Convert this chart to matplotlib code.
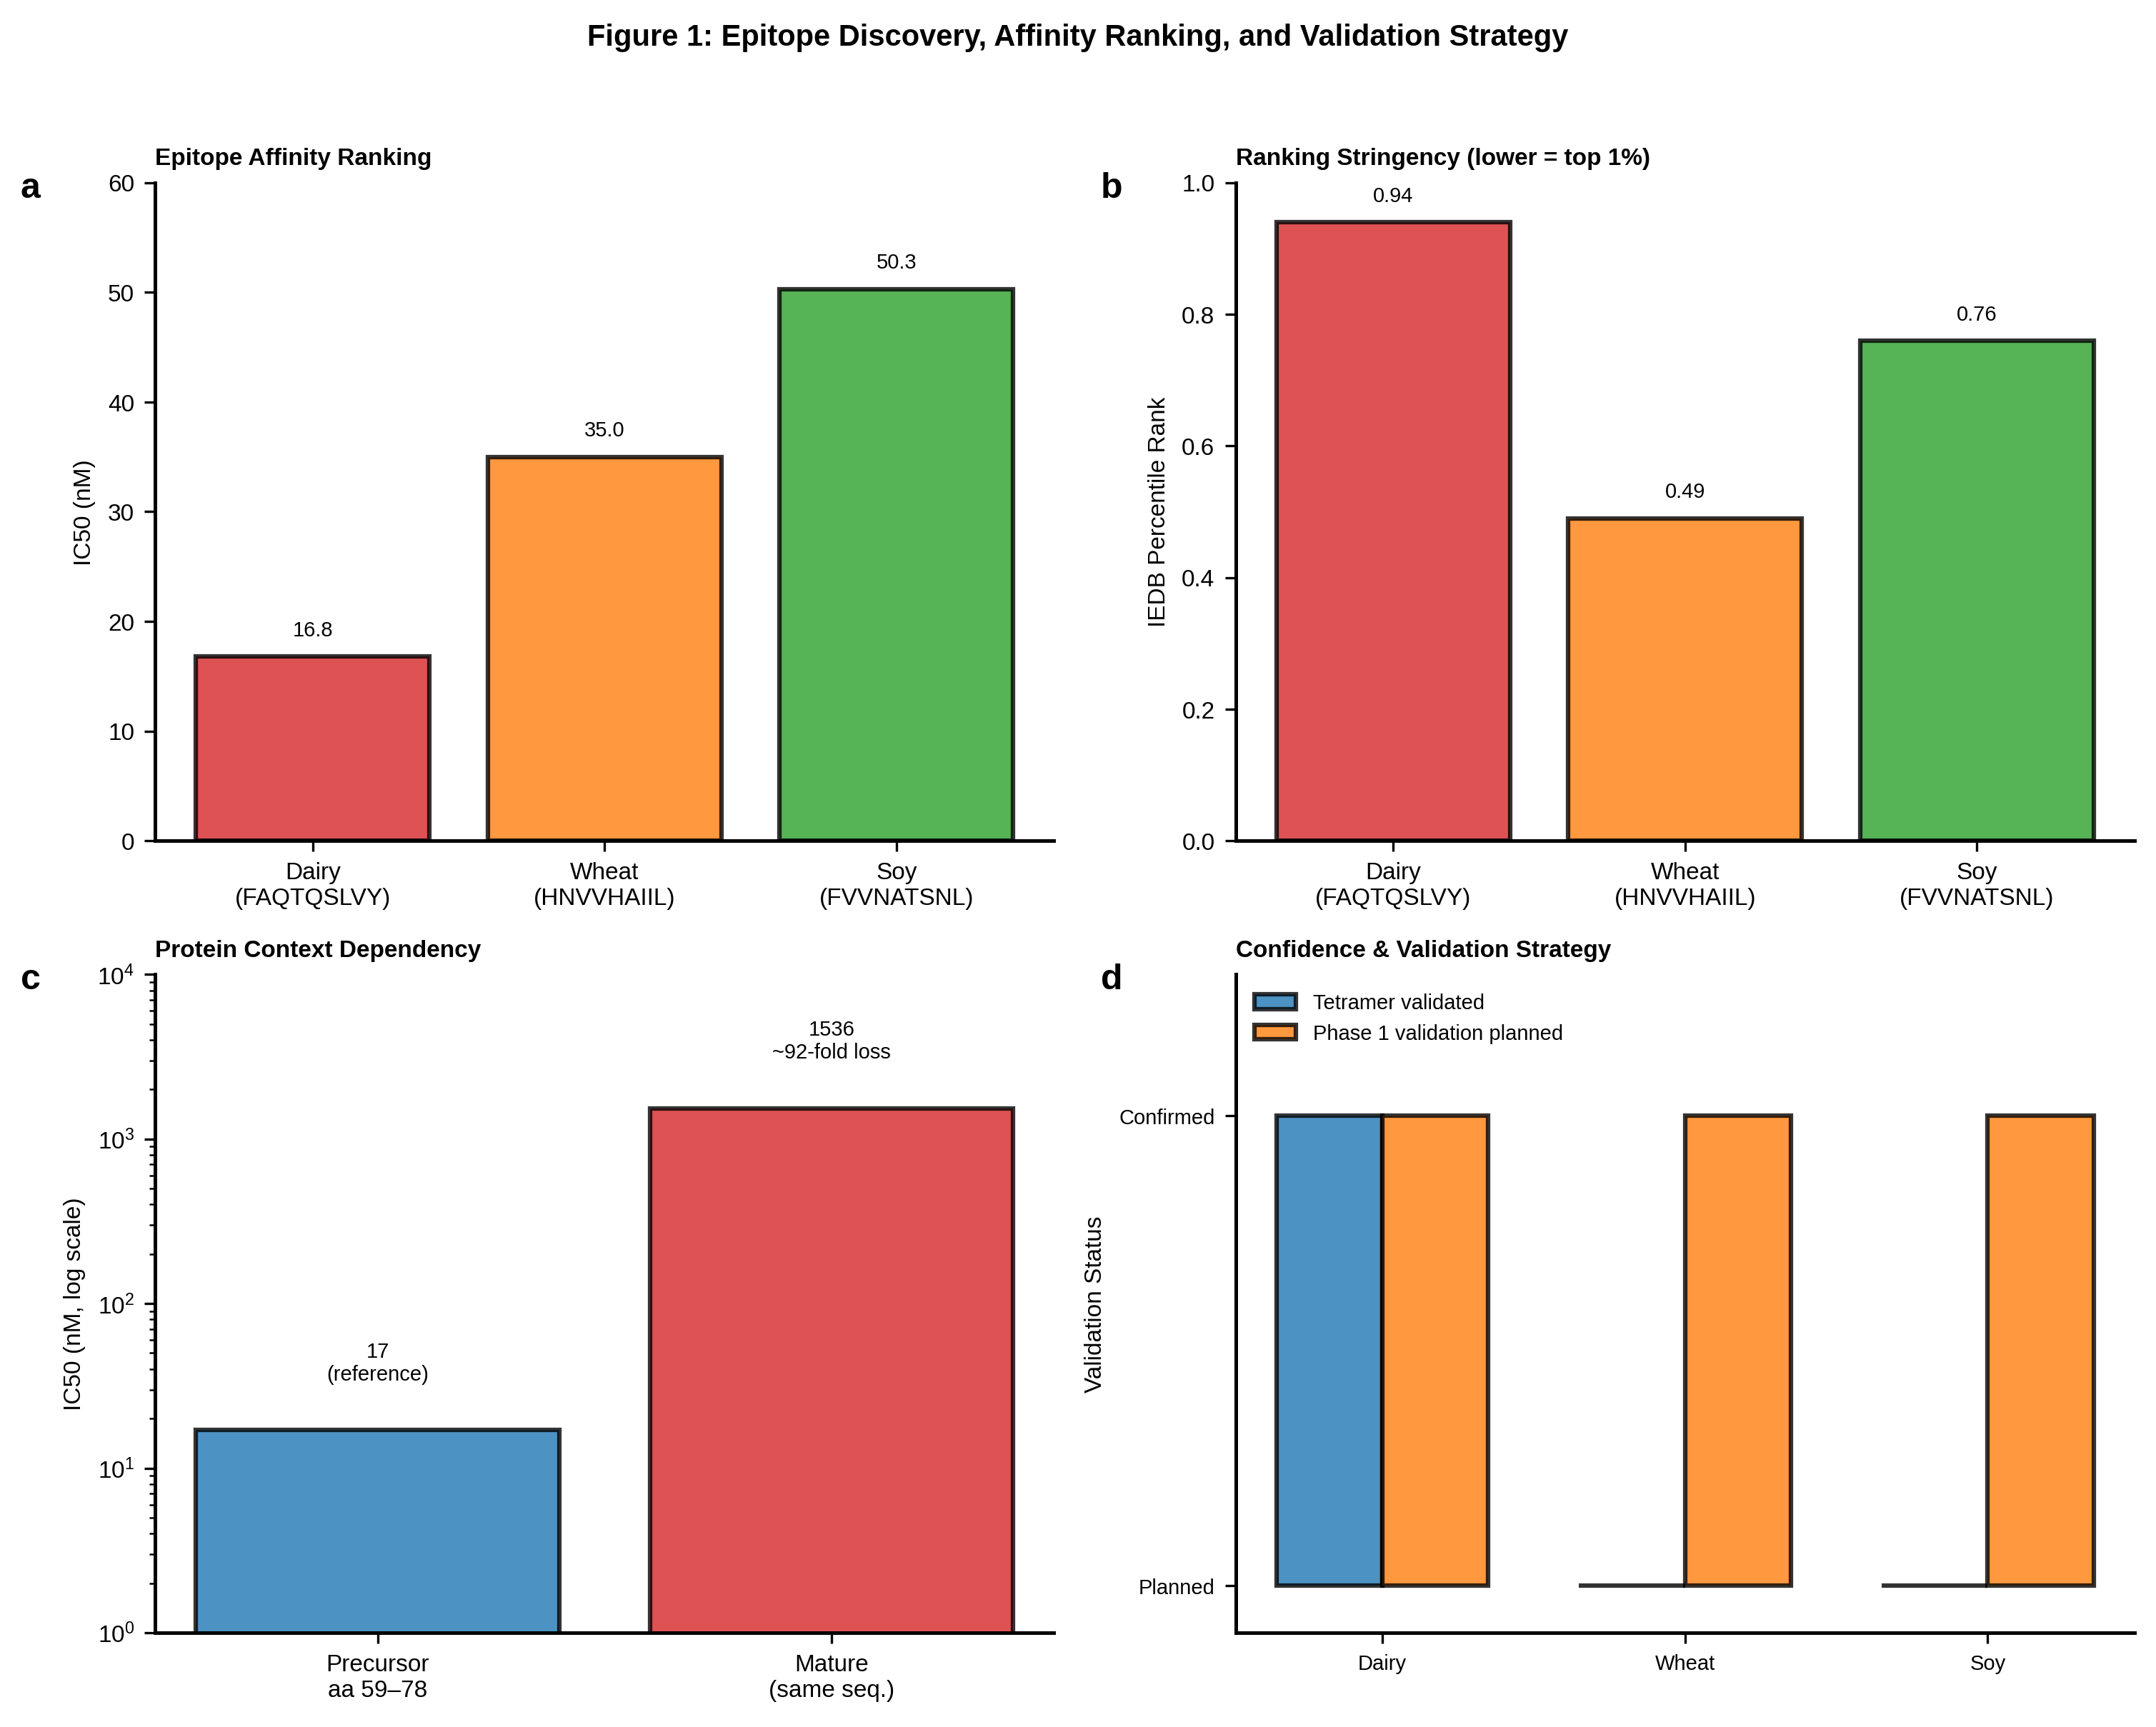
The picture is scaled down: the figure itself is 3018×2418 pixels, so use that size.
import matplotlib
matplotlib.use('Agg')
import matplotlib.pyplot as plt
import numpy as np

plt.rcParams['font.family'] = ['Liberation Sans', 'DejaVu Sans']
plt.rcParams['mathtext.fontset'] = 'custom'
plt.rcParams['mathtext.rm'] = 'Liberation Sans'
plt.rcParams['mathtext.it'] = 'Liberation Sans:italic'
plt.rcParams['axes.linewidth'] = 1.2
plt.rcParams['font.size'] = 8

# data
foods = ['Dairy', 'Wheat', 'Soy']
peptides = ['FAQTQSLVY', 'HNVVHAIIL', 'FVVNATSNL']
ic50 = [16.8, 35.0, 50.3]
pct_rank = [0.94, 0.49, 0.76]
context_labels = ['Precursor\naa 59\u201378', 'Mature\n(same seq.)']
context_ic50 = [17, 1536]
context_notes = ['17\n(reference)', '1536\n~92-fold loss']
tetramer = [1, 0, 0]
phase1 = [1, 1, 1]
status_labels = ['Planned', 'Confirmed']

c_red = '#d62728'
c_orange = '#ff7f0e'
c_green = '#2ca02c'
c_blue = '#1f77b4'
food_colors = [c_red, c_orange, c_green]

fig, axes = plt.subplots(2, 2, figsize=(10.06, 8.063), dpi=300)
plt.subplots_adjust(left=0.072, right=0.990, top=0.894, bottom=0.0546,
                    wspace=0.202, hspace=0.203)
fig.suptitle('Figure 1: Epitope Discovery, Affinity Ranking, and Validation Strategy',
             fontsize=10, fontweight='bold', y=0.9865)

xt = [f'{f}\n({p})' for f, p in zip(foods, peptides)]
x = np.arange(len(foods))

# a
ax = axes[0, 0]
ax.bar(x, ic50, width=0.8, color=food_colors, edgecolor='black', linewidth=1.5, alpha=0.8)
for xi, v in zip(x, ic50):
    ax.text(xi, v + 1.5, f'{v:.1f}', ha='center', va='bottom', fontsize=7)
ax.set_ylim(0, 60)
ax.set_xticks(x)
ax.set_xticklabels(xt)
ax.set_ylabel('IC50 (nM)')
ax.set_title('Epitope Affinity Ranking', loc='left', fontsize=8, fontweight='bold', pad=6)

# b
ax = axes[0, 1]
ax.bar(x, pct_rank, width=0.8, color=food_colors, edgecolor='black', linewidth=1.5, alpha=0.8)
for xi, v in zip(x, pct_rank):
    ax.text(xi, v + 0.025, f'{v:.2f}', ha='center', va='bottom', fontsize=7)
ax.set_ylim(0, 1.0)
ax.set_xticks(x)
ax.set_xticklabels(xt)
ax.set_ylabel('IEDB Percentile Rank')
ax.set_title('Ranking Stringency (lower = top 1%)', loc='left', fontsize=8, fontweight='bold', pad=6)

# c
ax = axes[1, 0]
xc = np.arange(len(context_ic50))
ax.bar(xc, context_ic50, width=0.8, color=[c_blue, c_red], edgecolor='black', linewidth=1.5, alpha=0.8)
for xi, v, note in zip(xc, context_ic50, context_notes):
    ax.text(xi, v * 1.9, note, ha='center', va='bottom', fontsize=7)
ax.set_yscale('log')
ax.set_ylim(1, 1e4)
ax.set_xticks(xc)
ax.set_xticklabels(context_labels)
ax.set_ylabel('IC50 (nM, log scale)')
ax.set_title('Protein Context Dependency', loc='left', fontsize=8, fontweight='bold', pad=6)

# d
ax = axes[1, 1]
w = 0.35
ax.bar(x - w/2, tetramer, width=w, color=c_blue, edgecolor='black', linewidth=1.5, alpha=0.8,
       label='Tetramer validated')
ax.bar(x + w/2, phase1, width=w, color=c_orange, edgecolor='black', linewidth=1.5, alpha=0.8,
       label='Phase 1 validation planned')
ax.set_ylim(-0.1, 1.3)
ax.set_yticks([0, 1])
ax.set_yticklabels(status_labels, fontsize=7)
ax.set_xticks(x)
ax.set_xticklabels(foods, fontsize=7)
ax.set_ylabel('Validation Status')
ax.legend(loc='upper left', frameon=False, fontsize=7)
ax.set_title('Confidence & Validation Strategy', loc='left', fontsize=8, fontweight='bold', pad=6)

for a, letter in zip(axes.flat, 'abcd'):
    a.spines['top'].set_visible(False)
    a.spines['right'].set_visible(False)
    a.text(-0.15, 0.978, letter, transform=a.transAxes, fontsize=12,
           fontweight='bold', va='baseline', ha='left')

fig.savefig('out.png', dpi=300)
